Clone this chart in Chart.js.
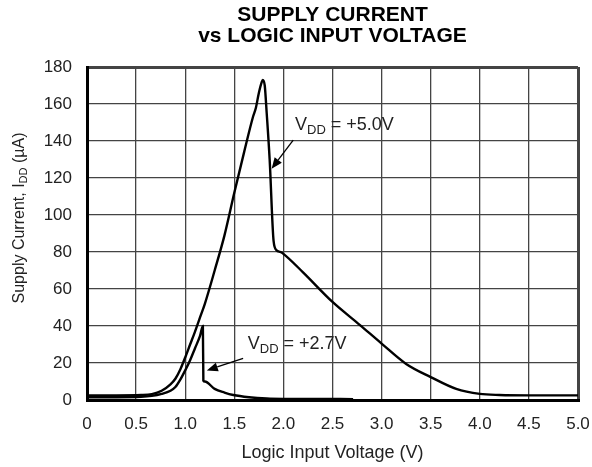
<!DOCTYPE html>
<html>
<head>
<meta charset="utf-8">
<script src="https://cdn.jsdelivr.net/npm/chart.js@4.4.1/dist/chart.umd.min.js"></script>
<style>
  html, body { margin: 0; padding: 0; background: #fff; }
  #wrap { width: 592px; height: 467px; position: relative; }
</style>
</head>
<body>
<div id="wrap"><canvas id="myChart" width="592" height="467"></canvas></div>
<script>
'use strict';

// curve for VDD = +5.0V
var volts5 = [0, 0.3, 0.55, 0.66, 0.76, 0.85, 0.9, 0.95, 1.0, 1.05, 1.1, 1.15, 1.2, 1.3, 1.4, 1.5, 1.6, 1.69, 1.72, 1.75, 1.78, 1.79, 1.81, 1.83, 1.86, 1.9, 1.93, 1.97, 2.0, 2.2, 2.5, 2.78, 3.0, 3.25, 3.5, 3.76, 4.0, 4.2, 4.5, 5.0];
var current5 = [2.5, 2.5, 2.7, 3.2, 5, 8.5, 11.5, 16.5, 23, 30, 37, 44.5, 52, 70, 89, 112, 134, 153, 158, 166, 172, 173, 170, 155, 130, 86, 81, 80, 79, 69, 53, 40.5, 30.5, 19.5, 12.4, 6, 3.3, 2.7, 2.5, 2.5];

// curve for VDD = +2.7V
var volts27 = [0, 0.3, 0.55, 0.66, 0.76, 0.85, 0.9, 0.95, 1.0, 1.05, 1.1, 1.15, 1.18, 1.185, 1.2, 1.3, 1.4, 1.49, 1.65, 1.83, 2.0, 2.71];
var current27 = [1.5, 1.5, 1.7, 2.2, 3.3, 5, 7, 11, 16, 21.5, 28, 34.5, 40, 10.5, 10, 6, 4, 2.7, 1.5, 0.8, 0.6, 0.5];

var xTickLabels = ['0', '0.5', '1.0', '1.5', '2.0', '2.5', '3.0', '3.5', '4.0', '4.5', '5.0'];
var yTickLabels = ['0', '20', '40', '60', '80', '100', '120', '140', '160', '180'];

var FONT = "'Liberation Sans', Arial, Helvetica, sans-serif";

function toPoints(xs, ys) {
    return xs.map(function (x, i) { return { x: x, y: ys[i] }; });
}

// labels with arrows, placed in data units
var notes = [
    { main: 'V', sub: 'DD', rest: ' = +5.0V', tx: 2.118, ty: 146, from: [2.10, 140.5], to: [1.88, 125] },
    { main: 'V', sub: 'DD', rest: ' = +2.7V', tx: 1.637, ty: 27.4, from: [1.59, 22.5], to: [1.22, 16] }
];

var notePlugin = {
    id: 'notes',
    afterDatasetsDraw: function (chart) {
        var ctx = chart.ctx;
        var xs = chart.scales.x, ys = chart.scales.y;
        ctx.save();
        ctx.fillStyle = '#222';
        ctx.strokeStyle = '#000';
        notes.forEach(function (n) {
            var x = xs.getPixelForValue(n.tx), y = ys.getPixelForValue(n.ty);
            ctx.textBaseline = 'alphabetic';
            ctx.textAlign = 'left';
            ctx.font = '18px ' + FONT;
            ctx.fillText(n.main, x, y);
            x += ctx.measureText(n.main).width;
            ctx.font = '13px ' + FONT;
            ctx.fillText(n.sub, x, y + 4);
            x += ctx.measureText(n.sub).width;
            ctx.font = '18px ' + FONT;
            ctx.fillText(n.rest, x, y);

            // arrow
            var x1 = xs.getPixelForValue(n.from[0]), y1 = ys.getPixelForValue(n.from[1]);
            var x2 = xs.getPixelForValue(n.to[0]), y2 = ys.getPixelForValue(n.to[1]);
            var a = Math.atan2(y2 - y1, x2 - x1);
            var hl = 11, hw = 4.5;
            var bx = x2 - hl * Math.cos(a), by = y2 - hl * Math.sin(a);
            ctx.lineWidth = 1.3;
            ctx.beginPath();
            ctx.moveTo(x1, y1);
            ctx.lineTo(bx, by);
            ctx.stroke();
            ctx.beginPath();
            ctx.moveTo(x2, y2);
            ctx.lineTo(bx + hw * Math.sin(a), by - hw * Math.cos(a));
            ctx.lineTo(bx - hw * Math.sin(a), by + hw * Math.cos(a));
            ctx.closePath();
            ctx.fillStyle = '#000';
            ctx.fill();
            ctx.fillStyle = '#222';
        });

        // y axis title with subscript
        ctx.translate(20, 218);
        ctx.rotate(-Math.PI / 2);
        ctx.textBaseline = 'middle';
        ctx.textAlign = 'left';
        var p1 = 'Supply Current, I', p2 = 'DD', p3 = ' (\u00B5A)';
        ctx.font = '16px ' + FONT;
        var w1 = ctx.measureText(p1).width, w3 = ctx.measureText(p3).width;
        ctx.font = '11px ' + FONT;
        var w2 = ctx.measureText(p2).width;
        var sx = -(w1 + w2 + w3) / 2;
        ctx.font = '16px ' + FONT;
        ctx.fillText(p1, sx, 0);
        ctx.font = '11px ' + FONT;
        ctx.fillText(p2, sx + w1, 4);
        ctx.font = '16px ' + FONT;
        ctx.fillText(p3, sx + w1 + w2, 0);
        ctx.restore();
    }
};

function edgeWidth(c) {
    var s = c.scale;
    if (!c.tick) return 1.3;
    return (c.tick.value === s.max || c.tick.value === s.min) ? 3 : 1.3;
}

var config = {
    type: 'line',
    data: {
        datasets: [
            {
                label: 'VDD = +5.0V',
                data: toPoints(volts5, current5),
                borderColor: '#000',
                borderWidth: 2.4,
                pointRadius: 0,
                cubicInterpolationMode: 'monotone',
                fill: false
            },
            {
                label: 'VDD = +2.7V',
                data: toPoints(volts27, current27),
                borderColor: '#000',
                borderWidth: 2.4,
                pointRadius: 0,
                cubicInterpolationMode: 'monotone',
                fill: false
            }
        ]
    },
    options: {
        responsive: false,
        animation: false,
        layout: { padding: { left: 0, right: 0, top: 0, bottom: 0 } },
        plugins: {
            legend: { display: false },
            tooltip: { enabled: false },
            title: {
                display: true,
                fullSize: false,
                text: ['SUPPLY CURRENT', 'vs LOGIC INPUT VOLTAGE'],
                color: '#000',
                font: { family: FONT, size: 21, weight: 'bold', lineHeight: 1 },
                padding: { top: 4.5, bottom: 20.5 }
            }
        },
        scales: {
            x: {
                type: 'linear',
                min: 0,
                max: 5,
                afterFit: function (s) {
                    s.height = 67;
                    s.paddingLeft = 0;
                    s.paddingRight = 14;
                },
                ticks: {
                    stepSize: 0.5,
                    padding: 14,
                    color: '#222',
                    font: { family: FONT, size: 17 },
                    maxRotation: 0,
                    callback: function (v) { return xTickLabels[Math.round(v * 2)]; }
                },
                grid: { color: '#444', lineWidth: edgeWidth, drawTicks: false },
                border: { color: '#000', width: 3 },
                title: {
                    display: true,
                    text: 'Logic Input Voltage (V)',
                    color: '#222',
                    font: { family: FONT, size: 18 },
                    padding: { top: 0, bottom: 3 }
                }
            },
            y: {
                min: 0,
                max: 180,
                afterFit: function (s) { s.width = 87; },
                ticks: {
                    stepSize: 20,
                    padding: 15,
                    color: '#222',
                    font: { family: FONT, size: 17 },
                    callback: function (v) { return yTickLabels[Math.round(v / 20)]; }
                },
                grid: { color: '#444', lineWidth: edgeWidth, drawTicks: false },
                border: { color: '#000', width: 3 }
            }
        }
    },
    plugins: [notePlugin]
};

var myChart = new Chart(document.getElementById('myChart'), config);
</script>
</body>
</html>
